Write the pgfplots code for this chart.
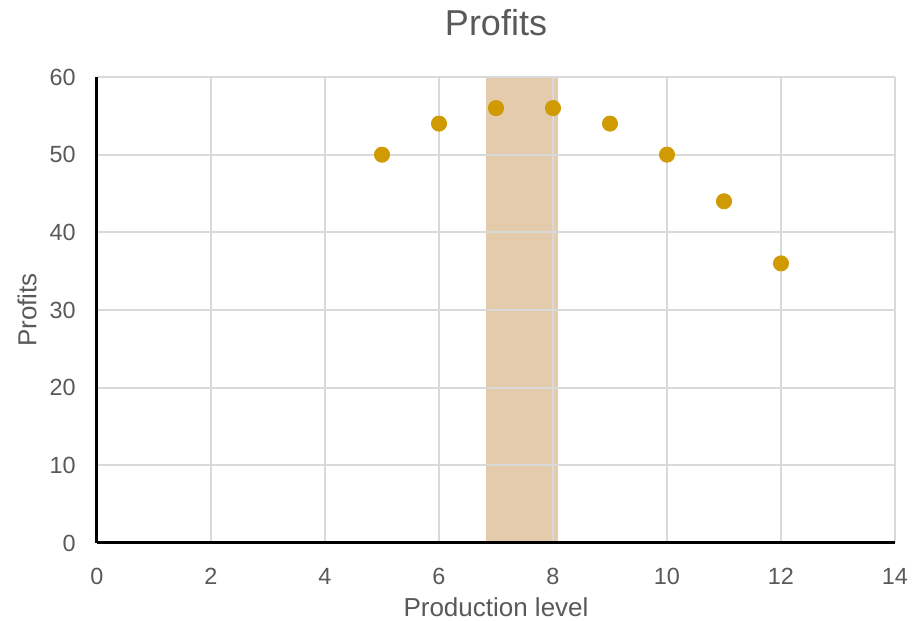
\documentclass[border=0pt]{standalone}
\usepackage{pgfplots}
\pgfplotsset{compat=1.18}
\usepackage{fontspec}
\setmainfont{Liberation Sans}
\definecolor{txt}{HTML}{595959}
\definecolor{gridc}{HTML}{D9D9D9}
\definecolor{band}{HTML}{E3CBAB}
\definecolor{pt}{HTML}{CF9A02}
\begin{document}
\begin{tikzpicture}
\begin{axis}[
  at={(0,0)}, anchor=south west,
  scale only axis, width=399pt, height=233pt,
  set layers,
  xmin=0, xmax=14, ymin=0, ymax=60,
  xtick={0,2,...,14}, ytick={0,10,...,60},
  axis x line=bottom, axis y line=left,
  axis line style={-, black, line width=1.5pt},
  grid=major, grid style={gridc, line width=0.9pt},
  major tick length=0pt,
  tick label style={font=\fontsize{11.7}{13}\selectfont, text=txt, inner sep=0pt},
  /pgf/number format/assume math mode=true,
  xticklabel style={anchor=north, yshift=-12.5pt},
  yticklabel style={anchor=east, xshift=-10.5pt},
  xlabel={Production level}, ylabel={Profits},
  label style={font=\fontsize{13}{15}\selectfont, text=txt, inner sep=0pt},
  xlabel style={at={(axis description cs:0.5,0)}, anchor=base, yshift=-37pt},
  ylabel style={at={(axis description cs:-0.075,0.5)}, anchor=south},
  every axis title shift=0pt,
  title={Profits},
  title style={font=\fontsize{18}{20}\selectfont, text=txt, inner sep=0pt, at={(axis description cs:0.5,1)}, anchor=base, yshift=21pt},
  clip=false,
]
\addplot[on layer=axis background, fill=band, draw=none] coordinates {(6.83,60) (8.09,60)} \closedcycle;
\addplot[only marks, mark=*, mark size=3.8pt, mark options={fill=pt, draw=pt}] coordinates {
(5,50) (6,54) (7,56) (8,56) (9,54) (10,50) (11,44) (12,36)};
\end{axis}
\useasboundingbox (-48.5pt,-39pt) rectangle (412.5pt,271.5pt);
\end{tikzpicture}
\end{document}
